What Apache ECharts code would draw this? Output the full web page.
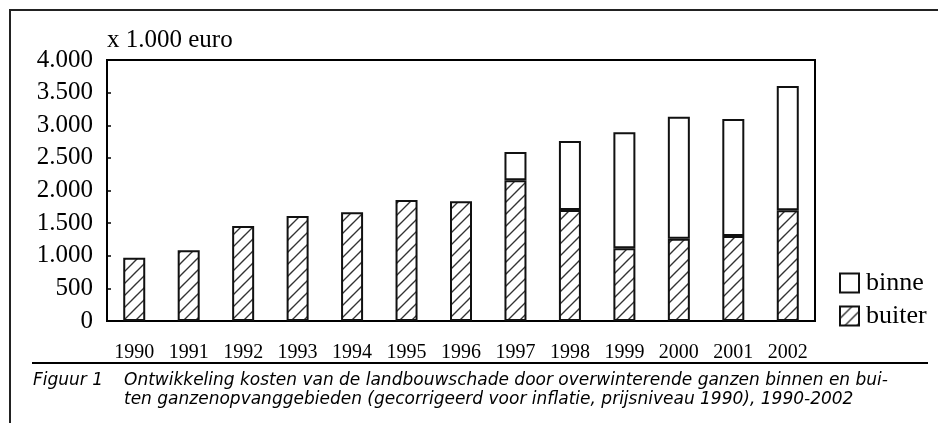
<!DOCTYPE html>
<html>
<head>
<meta charset="utf-8">
<script src="https://cdn.jsdelivr.net/npm/echarts@6/dist/echarts.min.js"></script>
<style>html,body{margin:0;padding:0;background:#fff;}#c{width:938px;height:423px;}</style>
</head>
<body>
<div id="c"></div>
<script>
const categories = ['1990','1991','1992','1993','1994','1995','1996','1997','1998','1999','2000','2001','2002'];
const buiten = [970, 1083, 1456, 1609, 1666, 1854, 1834, 2156, 1701, 1114, 1262, 1303, 1697];
const binnen = [0, 0, 0, 0, 0, 0, 0, 434, 1058, 1778, 1869, 1793, 1905];
const yTicks = [0, 500, 1000, 1500, 2000, 2500, 3000, 3500, 4000];
const captionLabel = 'Figuur 1';
const captionLines = [
  'Ontwikkeling kosten van de landbouwschade door overwinterende ganzen binnen en bui-',
  'ten ganzenopvanggebieden (gecorrigeerd voor inflatie, prijsniveau 1990), 1990-2002'
];

function makeHatch() {
  const s = 12;
  const cv = document.createElement('canvas');
  cv.width = s; cv.height = s;
  const ctx = cv.getContext('2d');
  ctx.fillStyle = '#fff';
  ctx.fillRect(0, 0, s, s);
  ctx.strokeStyle = '#333';
  ctx.lineWidth = 1.4;
  ctx.beginPath();
  ctx.moveTo(-2, s + 2); ctx.lineTo(s + 2, -2);
  ctx.moveTo(-2, 2); ctx.lineTo(2, -2);
  ctx.moveTo(s - 2, s + 2); ctx.lineTo(s + 2, s - 2);
  ctx.stroke();
  return cv;
}
const hatch = { image: makeHatch(), repeat: 'repeat' };

const chart = echarts.init(document.getElementById('c'), null, { renderer: 'canvas' });
const serif = '"Liberation Serif", "Times New Roman", serif';
const capFont = 'italic 17px "DejaVu Sans", "Liberation Sans", sans-serif';
const fmt = v => v >= 1000 ? Math.floor(v / 1000) + '.' + String(v % 1000).padStart(3, '0') : String(v);

chart.setOption({
  animation: false,
  backgroundColor: '#fff',
  grid: { left: 107, top: 60, right: 123, bottom: 102, show: true, borderColor: '#000', borderWidth: 2, backgroundColor: 'transparent' },
  legend: {
    orient: 'vertical', left: 834, top: 265, itemWidth: 19, itemHeight: 19, itemGap: 7,
    icon: 'rect',
    data: ['binne', 'buiter'],
    itemStyle: { borderColor: '#111', borderWidth: 2 },
    textStyle: { fontFamily: serif, fontSize: 26, lineHeight: 26, color: '#000', padding: [0, 0, 0, 2] },
    selectedMode: false
  },
  xAxis: {
    type: 'category', data: categories,
    axisLine: { lineStyle: { color: '#000', width: 2 } },
    axisTick: { inside: true, length: 5, lineStyle: { color: '#000', width: 1.5 } },
    axisLabel: { fontFamily: serif, fontSize: 20, color: '#000', margin: 22 }
  },
  yAxis: {
    type: 'value', min: 0, max: 4000, interval: 500,
    axisLine: { show: true, lineStyle: { color: '#000', width: 2 } },
    axisTick: { show: true, inside: true, length: 4, lineStyle: { color: '#000', width: 1.5 } },
    splitLine: { show: false },
    axisLabel: { fontFamily: serif, fontSize: 25, color: '#000', margin: 14, formatter: v => yTicks.includes(v) ? fmt(v) : '' }
  },
  series: [
    { name: 'buiter', type: 'bar', stack: 't', data: buiten, barWidth: 22,
      itemStyle: { color: hatch, borderColor: '#111', borderWidth: 2 } },
    { name: 'binne', type: 'bar', stack: 't', data: binnen.map(v => v > 0 ? v : null), barWidth: 22,
      itemStyle: { color: '#fff', borderColor: '#111', borderWidth: 2 } }
  ],
  graphic: [
    { type: 'polyline', silent: true, shape: { points: [[10, 423], [10, 10], [938, 10]] }, style: { stroke: '#222', lineWidth: 2, fill: null } },
    { type: 'line', silent: true, shape: { x1: 32, y1: 363, x2: 928, y2: 363 }, style: { stroke: '#000', lineWidth: 2 } },
    { type: 'text', silent: true, x: 107, y: 40, style: { text: 'x 1.000 euro', font: '25px ' + serif, fill: '#000', textVerticalAlign: 'middle' } },
    { type: 'text', silent: true, x: 33, y: 381, style: { text: captionLabel, font: capFont, fill: '#000', textVerticalAlign: 'middle' } },
    { type: 'text', silent: true, x: 124, y: 381, style: { text: captionLines[0], font: capFont, fill: '#000', textVerticalAlign: 'middle' } },
    { type: 'text', silent: true, x: 124, y: 400, style: { text: captionLines[1], font: capFont, fill: '#000', textVerticalAlign: 'middle' } }
  ]
});
</script>
</body>
</html>
